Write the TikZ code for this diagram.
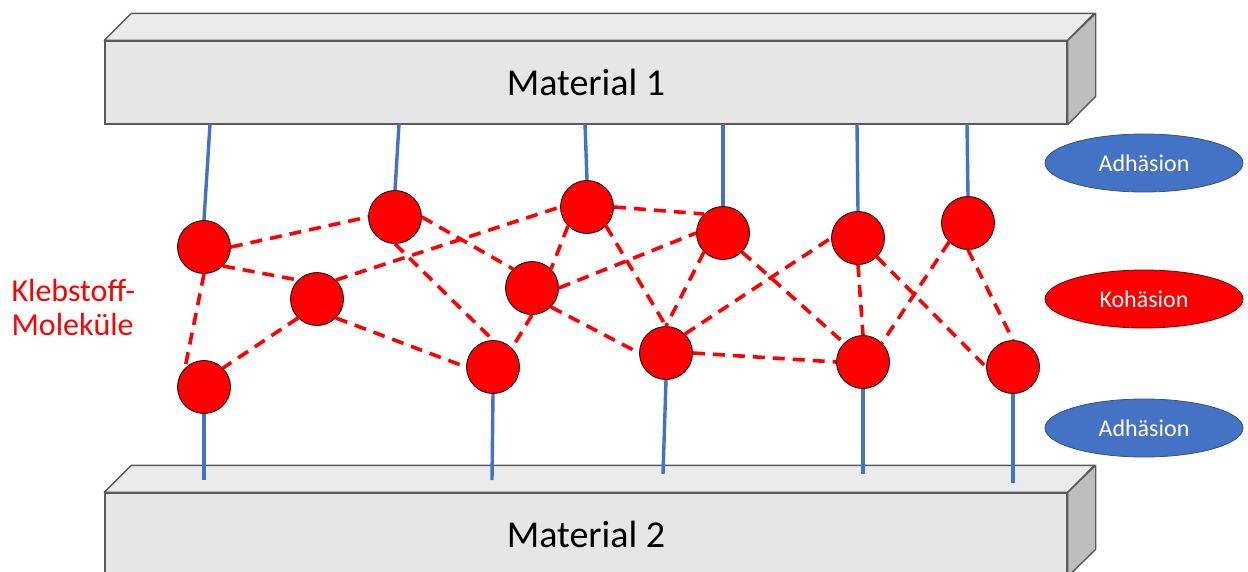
\documentclass[tikz,border=0pt]{standalone}
\usepackage{fontspec}
\setmainfont{Carlito}
\usetikzlibrary{shapes.geometric}
\definecolor{adhblue}{HTML}{4472C4}
\definecolor{adhedge}{HTML}{2F528F}
\definecolor{slabfront}{HTML}{E6E6E6}
\definecolor{slabtop}{HTML}{EBEBEB}
\definecolor{slabside}{HTML}{BEBEBE}
\definecolor{slabline}{HTML}{5A5A5A}

\begin{document}
\begin{tikzpicture}[x=1pt, y=-1pt,
    mol/.style = {draw=black, fill=red, circle, minimum size=53pt, inner sep=0pt, line width=0.8pt},
    bond/.style = {draw=red, dash pattern=on 12pt off 8pt, line width=3.6pt},
    hold/.style = {draw=adhblue, line width=3.4pt},
    slab/.style = {draw=slabline, fill=slabfront, line width=1.4pt, minimum width=962pt, minimum height=83pt, inner sep=0pt, font=\fontsize{38}{44}\selectfont},
    face/.style = {draw=slabline, line width=1.4pt, line join=round},
    tag/.style = {ellipse, draw=adhedge, fill=adhblue, text=white, line width=0.8pt, minimum width=198pt, minimum height=58pt, inner sep=0pt, font=\fontsize{24}{28}\selectfont}]
    \useasboundingbox (0,0) rectangle (1248,571);

    % Material 1 (top)
    \node[slab] (mat1) at (586,82.5) {Material 1};
    \draw[face, fill=slabtop] (mat1.north west) -- ++(27,-27) -- ++(963,0) -- (mat1.north east) -- cycle;
    \draw[face, fill=slabside] (mat1.north east) -- ++(28,-27) -- ++(0,83) -- (mat1.south east) -- cycle;

    % Material 2 (bottom)
    \node[slab] (mat2) at (586,534.5) {Material 2};
    \draw[face, fill=slabtop] (mat2.north west) -- ++(27,-27) -- ++(963,0) -- (mat2.north east) -- cycle;
    \draw[face, fill=slabside] (mat2.north east) -- ++(28,-27) -- ++(0,84) -- (mat2.south east) -- cycle;

    % molecules
    \node[mol] (a) at (204,247) {};
    \node[mol] (b) at (395,217) {};
    \node[mol] (c) at (587,207) {};
    \node[mol] (d) at (723,233) {};
    \node[mol] (e) at (858,238) {};
    \node[mol] (f) at (968,223) {};
    \node[mol] (g) at (317,299) {};
    \node[mol] (h) at (532,288) {};
    \node[mol] (i) at (204,387) {};
    \node[mol] (j) at (493,367) {};
    \node[mol] (k) at (666,353) {};
    \node[mol] (l) at (863,362) {};
    \node[mol] (m) at (1013,367) {};

    % adhesion
    \coordinate (ta) at (210,124);
    \coordinate (tb) at (399,124);
    \coordinate (tc) at (585,124);
    \coordinate (td) at (723,124);
    \coordinate (te) at (857,124);
    \coordinate (tf) at (967,124);
    \coordinate (bi) at (204,480);
    \coordinate (bj) at (492,480);
    \coordinate (bk) at (663,474);
    \coordinate (bl) at (863,474);
    \coordinate (bm) at (1013,483);
    \path[hold] (ta) edge (a.north) (tb) edge (b.north) (tc) edge (c.north);
    \path[hold] (td) edge (d.north) (te) edge (e.north) (tf) edge (f.north);
    \path[hold] (i.south) edge (bi) (j.south) edge (bj) (k.south) edge (bk);
    \path[hold] (l.south) edge (bl) (m.south) edge (bm);

    % cohesion
    \path[bond] (a.east) edge (b.west);
    \path[bond] (a.south east) edge (g.north west);
    \path[bond] (a.south) edge (i.north west);
    \path[bond] (g.south west) edge (i.north east);
    \path[bond] (g.north east) edge (c.west);
    \path[bond] (g.south east) edge (j.west);
    \path[bond] (b.east) edge (h.north west);
    \path[bond] (b.south) edge (j.north);
    \path[bond] (c.south west) edge (h.north east);
    \path[bond] (c.east) edge (d.north west);
    \path[bond] (c.south east) edge (k.north);
    \path[bond] (h.east) edge (d.west);
    \path[bond] (h.south) edge (j.north east);
    \path[bond] (h.south east) edge (k.west);
    \path[bond] (d.south west) edge (k.north);
    \path[bond] (d.south east) edge (l.north west);
    \path[bond] (k.north east) edge (e.west);
    \path[bond] (k.east) edge (l.west);
    \path[bond] (e.south) edge (l.north);
    \path[bond] (e.south east) edge (m.west);
    \path[bond] (f.south west) edge (l.north east);
    \path[bond] (f.south) edge (m.north);

    % labels
    \node[text=red, align=left, anchor=west, font=\fontsize{32}{34}\selectfont] (glue) at (8,308) {Klebstoff-\\Moleküle};
    \node[tag] (adh1) at (1144,163) {Adhäsion};
    \node[tag, draw=red!45!black, fill=red] (koh) at (1144,299) {Kohäsion};
    \node[tag] (adh2) at (1144,428) {Adhäsion};
\end{tikzpicture}
\end{document}
